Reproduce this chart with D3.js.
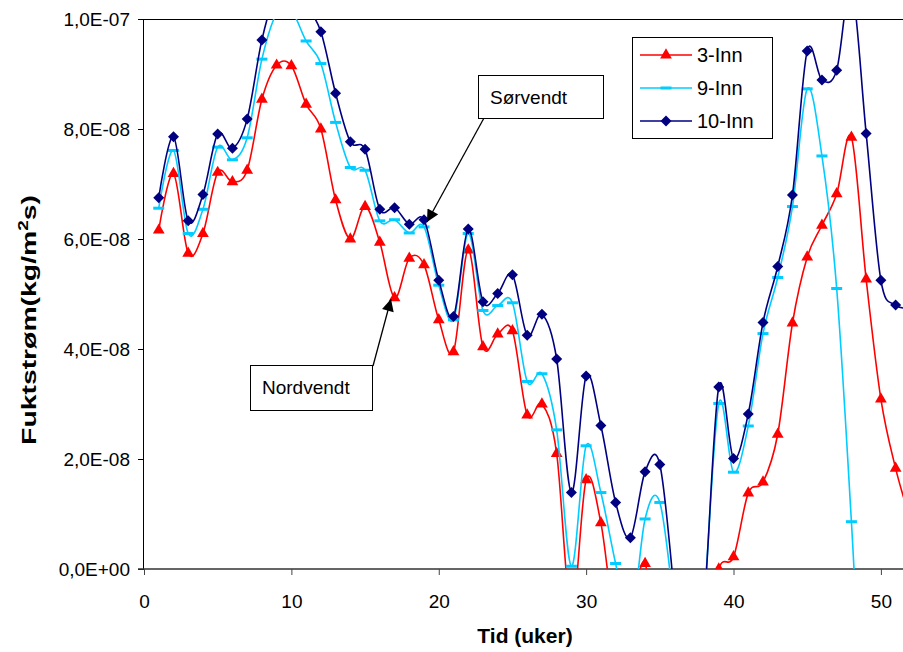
<!DOCTYPE html>
<html>
<head>
<meta charset="utf-8">
<script src="https://cdn.jsdelivr.net/npm/d3@7"></script>
<style>
  html, body { margin: 0; padding: 0; background: #fff; }
  svg { display: block; font-family: "Liberation Sans", Arial, sans-serif; }
</style>
</head>
<body>
<svg id="chart" width="903" height="652"></svg>
<script>
// ---- Data (values in units of 1E-08 kg/m2s) ----
const weeks = [1,2,3,4,5,6,7,8,9,10,11,12,13,14,15,16,17,18,19,20,21,22,23,24,25,26,
               27,28,29,30,31,32,33,34,35,36,37,38,39,40,41,42,43,44,45,46,47,48,49,50,51,52];
const inn3 = [6.16,7.19,5.74,6.10,7.21,7.04,7.25,8.54,9.16,9.15,8.45,8.00,6.71,6.00,6.59,5.94,
              4.93,5.65,5.53,4.53,3.95,5.80,4.04,4.27,4.33,2.80,3.00,2.10,-0.8,1.62,0.84,-1.0,
              -0.8,0.10,-2.0,-3.5,-3.5,-1.5,0.0,0.22,1.38,1.58,2.45,4.47,5.67,6.25,6.82,7.85,
              5.27,3.09,1.83,0.90];
const inn9 = [6.56,7.61,6.10,6.54,7.67,7.44,7.84,9.27,10.1,10.15,9.60,9.19,8.12,7.30,7.25,6.33,
              6.35,6.11,6.22,5.16,4.53,6.10,4.70,4.79,4.84,3.41,3.55,2.53,0.05,2.24,1.39,0.10,
              -1.0,0.91,1.21,-0.8,-3.5,-0.6,3.01,1.76,2.60,4.28,5.30,6.59,8.73,7.51,5.10,0.86,
              -4.0,-6.0,-6.0,-6.0];
const inn10 = [6.75,7.86,6.33,6.81,7.91,7.65,8.18,9.62,10.5,10.6,10.25,9.77,8.65,7.77,7.63,6.54,
               6.57,6.27,6.35,5.25,4.59,6.18,4.86,5.01,5.35,4.25,4.63,3.82,1.39,3.51,2.61,1.21,
               0.57,1.77,1.90,-0.5,-3.5,-0.7,3.31,2.01,2.82,4.48,5.50,6.80,9.42,8.89,9.07,10.6,
               7.92,5.25,4.80,4.75];
const seriesNames = ["3-Inn", "9-Inn", "10-Inn"];
const seriesColors = ["#FF0000", "#00CCFF", "#000080"];
const seriesMarkers = ["triangle", "dash", "diamond"];
const xTicks = [0, 10, 20, 30, 40, 50];
const yTicks = [0, 2e-8, 4e-8, 6e-8, 8e-8, 1e-7];
const yTickLabels = ["0,0E+00", "2,0E-08", "4,0E-08", "6,0E-08", "8,0E-08", "1,0E-07"];
const unit = 1e-8;

// ---- Layout ----
const W = 903, H = 652;
const plot = { left: 144, top: 19, right: 903, bottom: 569 };
const svg = d3.select("#chart");

const x = d3.scaleLinear().domain([0, 51.5]).range([plot.left, plot.right]);
const y = d3.scaleLinear().domain([0, 1e-7]).range([plot.bottom, plot.top]);

svg.append("rect").attr("width", W).attr("height", H).attr("fill", "#fff");

const defs = svg.append("defs");
defs.append("clipPath").attr("id", "clip")
  .append("rect").attr("x", plot.left).attr("y", plot.top)
  .attr("width", plot.right - plot.left).attr("height", plot.bottom - plot.top);

// top border
svg.append("line").attr("x1", plot.left).attr("x2", plot.right)
  .attr("y1", plot.top + 0.5).attr("y2", plot.top + 0.5)
  .attr("stroke", "#000").attr("stroke-width", 1);

// axes
const yAxis = d3.axisLeft(y).tickValues(yTicks).tickSize(6).tickPadding(8)
  .tickFormat((d, i) => yTickLabels[i]);
const gy = svg.append("g").attr("transform", `translate(${plot.left},0)`).call(yAxis);
gy.select(".domain").attr("stroke", "#000").attr("d", `M-0.5,${plot.top}V${plot.bottom}`);
gy.selectAll(".tick line").attr("stroke", "#000");
gy.selectAll("text").attr("font-size", 19).attr("fill", "#000")
  .attr("font-family", "Liberation Sans, Arial, sans-serif");

const xAxis = d3.axisBottom(x).tickValues(xTicks).tickSize(6).tickPadding(20)
  .tickFormat(d3.format("d"));
const gx = svg.append("g").attr("transform", `translate(0,${plot.bottom})`).call(xAxis);
gx.select(".domain").attr("stroke", "#333").attr("stroke-width", 1.5)
  .attr("d", `M${plot.left - 6},0H${plot.right}`);
gx.selectAll(".tick line").attr("stroke", "#444");
gx.selectAll("text").attr("font-size", 19).attr("fill", "#000")
  .attr("font-family", "Liberation Sans, Arial, sans-serif");

// axis titles
svg.append("text").attr("x", 525).attr("y", 643).attr("text-anchor", "middle")
  .attr("font-size", 21).attr("font-weight", "bold").text("Tid (uker)");
const yt = svg.append("text").attr("transform", "translate(36,320) rotate(-90) scale(1.35,1)")
  .attr("text-anchor", "middle").attr("font-size", 21).attr("font-weight", "bold");
yt.append("tspan").text("Fuktstrøm(kg/m");
yt.append("tspan").attr("dy", -8).attr("font-size", 14).text("2");
yt.append("tspan").attr("dy", 8).text("s)");

// ---- series ----
const series = [inn3, inn9, inn10];
const line = d3.line().curve(d3.curveCardinal.tension(0))
  .x(d => x(d.w)).y(d => y(d.v));

function drawMarker(g, kind, color) {
  if (kind === "triangle") {
    g.append("path").attr("d", d3.symbol().type(d3.symbolTriangle).size(60)())
      .attr("fill", color);
  } else if (kind === "diamond") {
    g.append("path").attr("d", "M0,-5.5L5.5,0L0,5.5L-5.5,0Z").attr("fill", color);
  } else {
    g.append("rect").attr("x", -5.5).attr("y", -1.5).attr("width", 11).attr("height", 3)
      .attr("fill", color);
  }
}

const plotG = svg.append("g").attr("clip-path", "url(#clip)");
series.forEach((vals, si) => {
  const data = weeks.map((w, i) => ({ w: w, v: vals[i] * unit }));
  plotG.append("path").datum(data).attr("d", line)
    .attr("fill", "none").attr("stroke", seriesColors[si]).attr("stroke-width", 1.6);
  data.forEach(d => {
    const g = plotG.append("g").attr("transform", `translate(${x(d.w)},${y(d.v)})`);
    drawMarker(g, seriesMarkers[si], seriesColors[si]);
  });
});

// ---- legend ----
const lg = svg.append("g");
lg.append("rect").attr("x", 632.5).attr("y", 37.5).attr("width", 140).attr("height", 101)
  .attr("fill", "#fff").attr("stroke", "#000").attr("stroke-width", 1);
seriesNames.forEach((name, i) => {
  const yy = 55 + i * 33;
  lg.append("line").attr("x1", 640).attr("x2", 692).attr("y1", yy).attr("y2", yy)
    .attr("stroke", seriesColors[i]).attr("stroke-width", 1.6);
  const g = lg.append("g").attr("transform", `translate(666,${yy})`);
  drawMarker(g, seriesMarkers[i], seriesColors[i]);
  lg.append("text").attr("x", 697).attr("y", yy + 7).attr("font-size", 20).text(name);
});

// ---- annotations ----
defs.append("marker").attr("id", "arrow").attr("viewBox", "0 0 10 10")
  .attr("refX", 10).attr("refY", 5).attr("markerWidth", 14).attr("markerHeight", 12)
  .attr("markerUnits", "userSpaceOnUse").attr("orient", "auto")
  .append("path").attr("d", "M0,0L10,5L0,10Z").attr("fill", "#000");

svg.append("line").attr("x1", 484).attr("y1", 118).attr("x2", 427).attr("y2", 222)
  .attr("stroke", "#000").attr("stroke-width", 1.3).attr("marker-end", "url(#arrow)");
svg.append("rect").attr("x", 478.5).attr("y", 75.5).attr("width", 125).attr("height", 43)
  .attr("fill", "#fff").attr("stroke", "#000");
svg.append("text").attr("x", 490).attr("y", 104).attr("font-size", 19).text("Sørvendt");

svg.append("line").attr("x1", 373).attr("y1", 366).attr("x2", 391).attr("y2", 299)
  .attr("stroke", "#000").attr("stroke-width", 1.3).attr("marker-end", "url(#arrow)");
svg.append("rect").attr("x", 250.5).attr("y", 365.5).attr("width", 122).attr("height", 45)
  .attr("fill", "#fff").attr("stroke", "#000");
svg.append("text").attr("x", 262).attr("y", 394).attr("font-size", 19).text("Nordvendt");
</script>
</body>
</html>
